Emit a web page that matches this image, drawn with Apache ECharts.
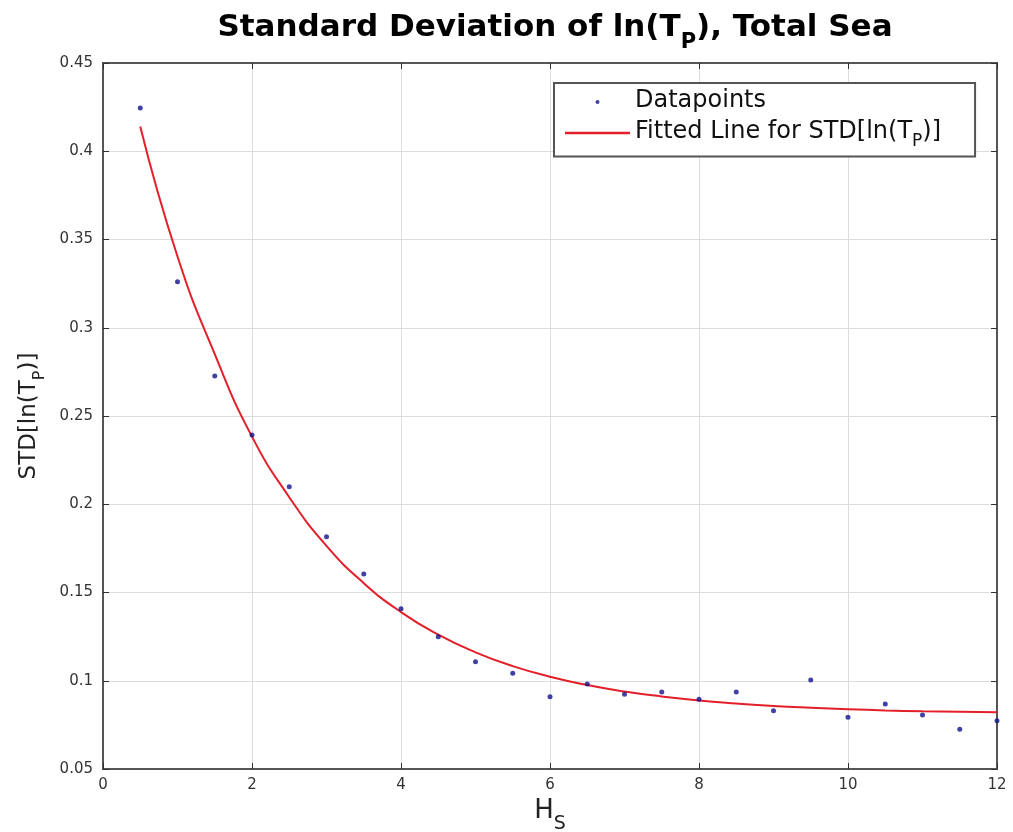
<!DOCTYPE html>
<html>
<head>
<meta charset="utf-8">
<script src="https://cdn.jsdelivr.net/npm/echarts@6/dist/echarts.min.js"></script>
<style>
  html, body { margin: 0; padding: 0; background: #ffffff; }
  #chart { width: 1013px; height: 832px; }
</style>
</head>
<body>
<div id="chart"></div>
<script>
// Significant wave height bins (m)
const hsBins = [0.5, 1, 1.5, 2, 2.5, 3, 3.5, 4, 4.5, 5, 5.5, 6,
                6.5, 7, 7.5, 8, 8.5, 9, 9.5, 10, 10.5, 11, 11.5, 12];
// Standard deviation of ln(Tp) per bin
const stdLnTp = [0.4245, 0.326, 0.2727, 0.2392, 0.2099, 0.1816, 0.1605, 0.1408,
                 0.1250, 0.1108, 0.1042, 0.0910, 0.0982, 0.0923, 0.0936, 0.0895,
                 0.0936, 0.0830, 0.1004, 0.0793, 0.0868, 0.0806, 0.0725, 0.0774];
// Fitted curve sampled at the same bins
const fittedStd = [0.4140, 0.3404, 0.2850, 0.2383, 0.2040, 0.1764, 0.1553, 0.1389,
                   0.1261, 0.1161, 0.1083, 0.1023, 0.0976, 0.0939, 0.0911, 0.0888,
                   0.0871, 0.0857, 0.0847, 0.0839, 0.0832, 0.0827, 0.0824, 0.0821];

const xRange = { min: 0, max: 12, interval: 2 };
const yRange = { min: 0.05, max: 0.45, interval: 0.05 };

const FONT = "'DejaVu Sans', 'Liberation Sans', Arial, sans-serif";
const FRAME = '#555555';
const GRID = '#dcdcdc';
const LINE_RED = '#e3202a';

const chart = echarts.init(document.getElementById('chart'), null, { renderer: 'canvas' });

const axisCommon = {
  axisLine: { show: true, onZero: false, lineStyle: { color: FRAME, width: 2 } },
  axisTick: { show: true, inside: true, length: 6, lineStyle: { color: '#333', width: 1 } },
  splitLine: { show: false }
};

// rich-text styles: a main run and a lowered subscript run (both top-aligned,
// the subscript pushed down by its top padding)
function subStyles(size, lineH, subSize, drop, color, weight) {
  return {
    m: { fontSize: size, fontWeight: weight, color: color, fontFamily: FONT,
         lineHeight: lineH, verticalAlign: 'top' },
    s: { fontSize: subSize, fontWeight: weight, color: color, fontFamily: FONT,
         lineHeight: subSize, verticalAlign: 'top', padding: [drop, 0, 0, 0] }
  };
}

const option = {
  backgroundColor: '#ffffff',
  animation: false,
  title: {
    text: '{m|Standard Deviation of ln(T}{s|P}{m|), Total Sea}',
    left: 550,
    textAlign: 'center',
    top: 7,
    textStyle: { fontFamily: FONT, rich: subStyles(31, 38, 21, 20, '#000', 'bold') }
  },
  legend: {
    orient: 'vertical',
    left: 554,
    top: 83,
    padding: [6, 34, 6, 11],
    itemGap: 7,
    itemWidth: 65,
    itemHeight: 4,
    backgroundColor: '#ffffff',
    borderColor: FRAME,
    borderWidth: 2,
    borderRadius: 0,
    data: [
      { name: 'Datapoints', icon: 'circle' },
      { name: 'Fitted Line for STD[ln(TP)]', icon: 'path://M0 0H65V2.4H0Z' }
    ],
    formatter: function (name) {
      if (name === 'Datapoints') return '{m|Datapoints}';
      return '{m|Fitted Line for STD[ln(T}{s|P}{m|)]}';
    },
    textStyle: { fontFamily: FONT, rich: subStyles(24, 26, 17, 13.5, '#111', 'normal') }
  },
  grid: {
    left: 103, right: 16, top: 63, bottom: 63,
    outerBoundsMode: 'none',
    show: true, borderColor: FRAME, borderWidth: 2, backgroundColor: '#ffffff'
  },
  xAxis: [
    Object.assign({}, axisCommon, {
      type: 'value', position: 'bottom',
      min: xRange.min, max: xRange.max, interval: xRange.interval,
      name: '{m|H}{s|S}',
      nameLocation: 'middle',
      nameGap: 22,
      nameTextStyle: { fontFamily: FONT, rich: subStyles(26, 32, 19, 16.5, '#222', 'normal') },
      axisLabel: { color: '#333', fontSize: 15, fontFamily: FONT, margin: 9 },
      splitLine: { show: true, lineStyle: { color: GRID, width: 1 } }
    }),
    Object.assign({}, axisCommon, {
      type: 'value', position: 'top',
      min: xRange.min, max: xRange.max, interval: xRange.interval,
      axisLabel: { show: false }
    })
  ],
  yAxis: [
    Object.assign({}, axisCommon, {
      type: 'value', position: 'left',
      min: yRange.min, max: yRange.max, interval: yRange.interval,
      name: '{m|STD[ln(T}{s|P}{m|)]}',
      nameLocation: 'middle',
      nameGap: 57,
      nameRotate: 90,
      nameTextStyle: { fontFamily: FONT, rich: subStyles(23, 28, 16, 14, '#222', 'normal') },
      axisLabel: {
        color: '#333', fontSize: 15, fontFamily: FONT, margin: 10,
        formatter: function (v) { return String(+v.toFixed(2)); }
      },
      splitLine: { show: true, lineStyle: { color: GRID, width: 1 } }
    }),
    Object.assign({}, axisCommon, {
      type: 'value', position: 'right',
      min: yRange.min, max: yRange.max, interval: yRange.interval,
      axisLabel: { show: false }
    })
  ],
  series: [
    {
      name: 'Datapoints',
      type: 'scatter',
      xAxisIndex: 0, yAxisIndex: 0,
      symbol: 'circle',
      symbolSize: 5,
      itemStyle: { color: '#12128c' },
      data: hsBins.map((h, i) => [h, stdLnTp[i]]),
      z: 3
    },
    {
      name: 'Fitted Line for STD[ln(TP)]',
      type: 'line',
      xAxisIndex: 0, yAxisIndex: 0,
      smooth: true,
      symbol: 'none',
      lineStyle: { color: LINE_RED, width: 2 },
      itemStyle: { color: LINE_RED },
      data: hsBins.map((h, i) => [h, fittedStd[i]]),
      z: 2
    }
  ]
};

chart.setOption(option);
</script>
</body>
</html>
